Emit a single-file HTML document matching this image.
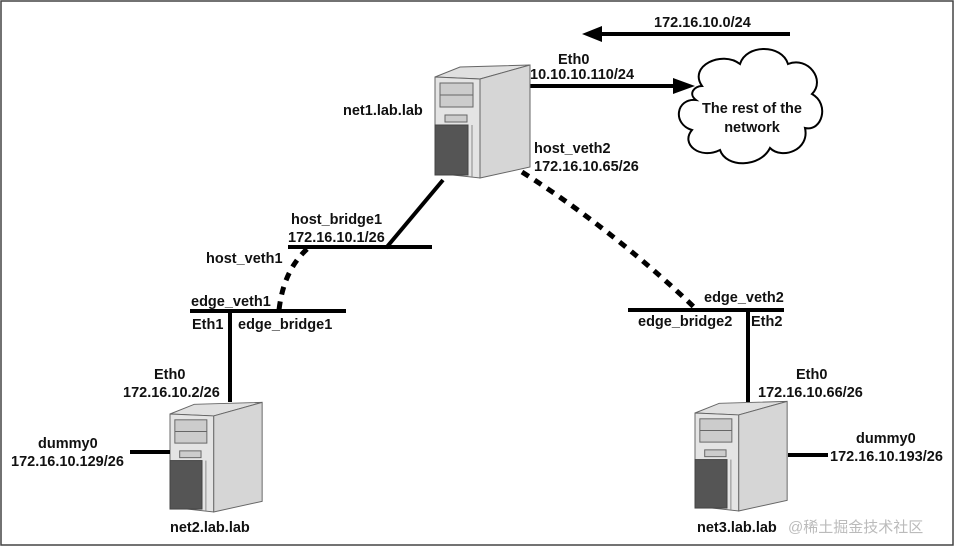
<!DOCTYPE html>
<html><head><meta charset="utf-8"><style>
html,body{margin:0;padding:0;background:#fff}
svg text{font-family:"Liberation Sans",Arial,sans-serif;font-weight:bold;font-size:14.5px;fill:#111}
</style></head><body>
<svg width="955" height="547" viewBox="0 0 955 547" xmlns="http://www.w3.org/2000/svg">
<defs>
<g id="srv">
  <polygon points="0,0 25,-10 95,-12 45,2" fill="#e0e0e0" stroke="#666" stroke-width="1"/>
  <polygon points="45,2 95,-12 95,90 45,101" fill="#d6d6d6" stroke="#666" stroke-width="1"/>
  <polygon points="0,0 45,2 45,101 0,96" fill="#e4e4e4" stroke="#666" stroke-width="1"/>
  <rect x="5" y="6" width="33" height="24" fill="#ccc" stroke="#666"/>
  <line x1="5" y1="18" x2="38" y2="18" stroke="#666"/>
  <rect x="10" y="38" width="22" height="7" fill="#ccc" stroke="#666"/>
  <rect x="0" y="48" width="33" height="50" fill="#555" stroke="#444"/>
  <line x1="37" y1="48" x2="37" y2="100" stroke="#888"/>
</g>
</defs>
<rect x="1" y="1" width="952" height="544" fill="none" stroke="#444" stroke-width="1.5"/>

<line x1="790" y1="34" x2="598" y2="34" stroke="#000" stroke-width="4"/>
<polygon points="582,34 602,26 602,42" fill="#000"/>
<text x="654" y="27">172.16.10.0/24</text>

<line x1="530" y1="86" x2="675" y2="86" stroke="#000" stroke-width="4"/>
<polygon points="695,86 673,78 673,94" fill="#000"/>
<text x="558" y="64">Eth0</text>
<text x="530" y="79">10.10.10.110/24</text>

<path d="M702,86 C688,66 722,50 740,64 C746,44 782,44 788,64 C808,56 826,80 812,94 C830,104 822,132 805,128 C810,150 782,160 770,148 C760,168 726,168 720,150 C700,160 680,144 692,130 C672,124 676,98 696,100 C688,94 694,86 702,86 Z" fill="#fff" stroke="#000" stroke-width="2"/>
<text x="752" y="113" text-anchor="middle">The rest of the</text>
<text x="752" y="132" text-anchor="middle">network</text>

<use href="#srv" transform="translate(435,77)"/>
<use href="#srv" transform="translate(170,414) scale(0.97)"/>
<use href="#srv" transform="translate(695,413) scale(0.97)"/>

<text x="343" y="115">net1.lab.lab</text>
<text x="170" y="532">net2.lab.lab</text>
<text x="697" y="532">net3.lab.lab</text>

<line x1="443" y1="180" x2="386" y2="248" stroke="#000" stroke-width="4"/>
<line x1="288" y1="247" x2="432" y2="247" stroke="#000" stroke-width="4"/>
<text x="291" y="224">host_bridge1</text>
<text x="288" y="242">172.16.10.1/26</text>
<text x="206" y="263">host_veth1</text>

<path d="M307,249 C290,265 282,285 279,310" fill="none" stroke="#000" stroke-width="5" stroke-dasharray="8,7"/>

<line x1="190" y1="311" x2="346" y2="311" stroke="#000" stroke-width="4"/>
<text x="191" y="306">edge_veth1</text>
<text x="192" y="329">Eth1</text>
<text x="238" y="329">edge_bridge1</text>
<line x1="230" y1="311" x2="230" y2="402" stroke="#000" stroke-width="4"/>
<text x="154" y="379">Eth0</text>
<text x="123" y="397">172.16.10.2/26</text>
<line x1="130" y1="452" x2="170" y2="452" stroke="#000" stroke-width="4"/>
<text x="38" y="448">dummy0</text>
<text x="11" y="466">172.16.10.129/26</text>

<text x="534" y="153">host_veth2</text>
<text x="534" y="171">172.16.10.65/26</text>
<path d="M522,172 C590,215 650,265 695,308" fill="none" stroke="#000" stroke-width="5" stroke-dasharray="8,7"/>

<line x1="628" y1="310" x2="784" y2="310" stroke="#000" stroke-width="4"/>
<text x="704" y="302">edge_veth2</text>
<text x="638" y="326">edge_bridge2</text>
<text x="751" y="326">Eth2</text>
<line x1="748" y1="310" x2="748" y2="402" stroke="#000" stroke-width="4"/>
<text x="796" y="379">Eth0</text>
<text x="758" y="397">172.16.10.66/26</text>
<line x1="788" y1="455" x2="828" y2="455" stroke="#000" stroke-width="4"/>
<text x="856" y="443">dummy0</text>
<text x="830" y="461">172.16.10.193/26</text>

<text x="788" y="532" style="font-weight:normal;fill:#bbb;font-size:15px;font-family:'Liberation Sans','Noto Sans CJK SC',sans-serif">@稀土掘金技术社区</text>
</svg>
</body></html>
